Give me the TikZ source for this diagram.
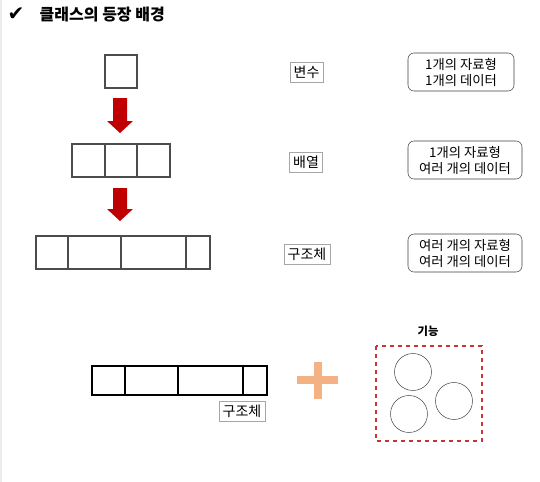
\documentclass[tikz,border=0pt]{standalone}
\usepackage{fontspec}
\usepackage{xcolor}
\setmainfont{Noto Sans CJK KR}
\newfontfamily\symfont{DejaVu Sans}
\definecolor{cArrow}{RGB}{192,0,0}
\definecolor{cPlus}{RGB}{244,177,131}
\definecolor{cDash}{RGB}{204,51,51}
\tikzset{
  tagbox/.style={draw=gray!70,fill=white,inner sep=2.6pt,font=\fontsize{10.5}{12}\selectfont},
  infobox/.style={draw=black!75,rounded corners=4.5pt,align=center,minimum height=28.5pt,inner sep=1pt,font=\fontsize{10}{12}\selectfont},
  cellrow/.style={draw=black!70,line width=0.9},
  cellrowb/.style={draw=black,line width=1.6}
}

\begin{document}
\begin{tikzpicture}[x=0.75pt,y=-0.75pt]
\useasboundingbox (0,0) rectangle (540,482);
\fill[white] (0,0) rectangle (540,482);
\draw[gray!15,line width=1.5] (0.8,0) -- (0.8,482);
% title
\node[anchor=west,font=\symfont\bfseries\fontsize{15}{17}\selectfont] (check) at (3,14) {✔};
\node[anchor=west,font=\bfseries\fontsize{12}{14}\selectfont] (title) at (35,14.5) {클래스의 등장 배경};
% variable
\draw[cellrow] (105,55) rectangle (137,88);
\fill[cArrow] (113,98) -- (127,98) -- (127,121) -- (133,121) -- (120,133) -- (107,121) -- (113,121) -- cycle;
% array
\draw[cellrow] (72,144) rectangle (170,177);
\draw[cellrow] (105,144) -- (105,177);
\draw[cellrow] (137,144) -- (137,177);
\fill[cArrow] (113,188) -- (127,188) -- (127,209) -- (133,209) -- (120,221) -- (107,209) -- (113,209) -- cycle;
% struct
\draw[cellrow] (36,236) rectangle (210,269);
\draw[cellrow] (68,236) -- (68,269);
\draw[cellrow] (121,236) -- (121,269);
\draw[cellrow] (186,236) -- (186,269);
% labels
\node[tagbox] (var) at (306.5,72.5) {변수};
\node[tagbox] (arr) at (306,162.5) {배열};
\node[tagbox] (st) at (307,254.5) {구조체};
\node[infobox,minimum width=79.5pt] (varinfo) at (461,72) {1개의 자료형\\1개의 데이터};
\node[infobox,minimum width=85.5pt] (arrinfo) at (465,160) {1개의 자료형\\여러 개의 데이터};
\node[infobox,minimum width=85.5pt] (stinfo) at (465,253) {여러 개의 자료형\\여러 개의 데이터};
% struct + function
\draw[cellrowb] (92,366) rectangle (267,395);
\draw[cellrowb] (125,366) -- (125,395);
\draw[cellrowb] (178,366) -- (178,395);
\draw[cellrowb] (243,366) -- (243,395);
\node[tagbox] (st2) at (242,411.5) {구조체};
\fill[cPlus] (297,376) rectangle (338,384);
\fill[cPlus] (314,362) rectangle (322,399);
\node[font=\bfseries\fontsize{8.5}{10}\selectfont] (func) at (428,331) {기능};
\draw[cDash,dashed,line width=1.3] (376,346) rectangle (482,441);
\draw[black!70] (413,372) circle (18.5);
\draw[black!70] (454,401) circle (18.5);
\draw[black!70] (409,414) circle (18.5);
\end{tikzpicture}
\end{document}
